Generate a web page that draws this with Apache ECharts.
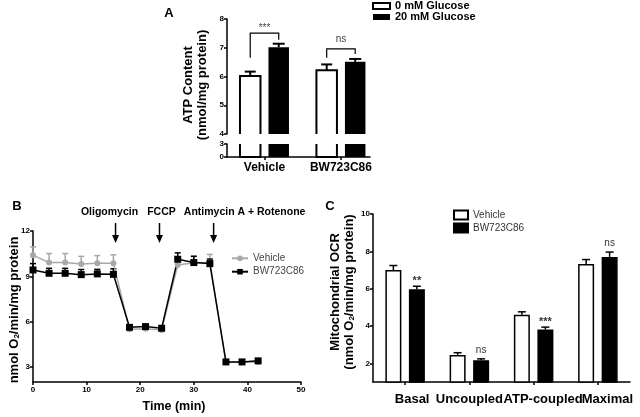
<!DOCTYPE html>
<html>
<head>
<meta charset="utf-8">
<script src="https://cdn.jsdelivr.net/npm/echarts@6/dist/echarts.min.js"></script>
<style>
  html, body { margin: 0; padding: 0; background: #fff; }
  #main { width: 640px; height: 417px; }
</style>
</head>
<body>
<div id="main"></div>
<script>
// ---- Panel A: ATP content ----
const groupsA = ['Vehicle', 'BW723C86'];
const glucose0 = [6.02, 6.22];
const glucose0Err = [0.15, 0.2];
const glucose20 = [7.02, 6.51];
const glucose20Err = [0.12, 0.1];
const sigA = ['***', 'ns'];
const bracketTopA = [7.51, 6.96];
const bracketLeftA = [6.65, 6.65];
const bracketRightA = [7.28, 6.78];

// ---- Panel B: OCR time course ----
const timeB = [0, 3, 6, 9, 12, 15, 18, 21, 24, 27, 30, 33, 36, 39, 42];
const vehicleB = [10.4, 9.91, 9.91, 9.82, 9.87, 9.87, 5.5, 5.52, 5.45, 9.75, 9.9, 9.9, 3.3, 3.3, 3.32];
const vehicleBErr = [0.55, 0.6, 0.6, 0.5, 0.5, 0.55, 0.1, 0.1, 0.1, 0.45, 0.4, 0.55, 0.1, 0.1, 0.1];
const bwB = [9.42, 9.2, 9.2, 9.11, 9.16, 9.13, 5.62, 5.67, 5.56, 10.13, 9.91, 9.84, 3.33, 3.33, 3.4];
const bwBErr = [0.42, 0.33, 0.33, 0.34, 0.3, 0.37, 0.08, 0.08, 0.08, 0.42, 0.42, 0.3, 0.05, 0.05, 0.05];
const injections = ['Oligomycin', 'FCCP', 'Antimycin A + Rotenone'];
const injectionTimes = [15.4, 23.6, 33.7];

// ---- Panel C: mitochondrial OCR ----
const categoriesC = ['Basal', 'Uncoupled', 'ATP-coupled', 'Maximal'];
const vehicleC = [7.0, 2.45, 4.6, 7.32];
const vehicleCErr = [0.24, 0.12, 0.16, 0.24];
const bwC = [5.97, 2.17, 3.81, 7.7];
const bwCErr = [0.16, 0.07, 0.13, 0.26];
const sigC = ['**', 'ns', '***', 'ns'];

const FONT = '"Liberation Sans", Arial, sans-serif';
const chart = echarts.init(document.getElementById('main'));

const A_OFF = 14.25, A_BAR = 20.5;
const C_OFF = 11.75;

function barA(offset, filled, lo, hi) {
  return function (params, api) {
    const v = api.value(1);
    const p = api.coord([api.value(0), Math.min(v, hi)]);
    const b = api.coord([api.value(0), lo]);
    const x0 = p[0] + offset - A_BAR / 2, x1 = x0 + A_BAR;
    if (filled) {
      return {type: 'rect', shape: {x: x0, y: p[1], width: A_BAR, height: b[1] - p[1]}, style: {fill: '#000'}};
    }
    // white bar: leave the side at the axis break open
    const pts = v > hi
      ? [[x0, p[1]], [x0, b[1]], [x1, b[1]], [x1, p[1]]]
      : [[x0, b[1]], [x0, p[1]], [x1, p[1]], [x1, b[1]]];
    return {type: 'polyline', shape: {points: pts}, style: {stroke: '#000', lineWidth: 2, fill: null}};
  };
}

function errBar(offset, cap, color, width) {
  return function (params, api) {
    const x = api.value(0), v = api.value(1), e = api.value(2);
    const p = api.coord([x, v]), q = api.coord([x, v + e]);
    const cx = p[0] + offset;
    return {type: 'group', children: [
      {type: 'line', shape: {x1: cx, y1: p[1], x2: cx, y2: q[1]}, style: {stroke: color, lineWidth: width}},
      {type: 'line', shape: {x1: cx - cap / 2, y1: q[1], x2: cx + cap / 2, y2: q[1]}, style: {stroke: color, lineWidth: width}}
    ]};
  };
}

function bracketA(params, api) {
  const i = api.value(0);
  const t = api.coord([i, api.value(1)]);
  const l = api.coord([i, api.value(2)]);
  const r = api.coord([i, api.value(3)]);
  const xl = t[0] - A_OFF, xr = t[0] + A_OFF;
  const s = sigA[params.dataIndex];
  return {type: 'group', children: [
    {type: 'polyline', shape: {points: [[xl, l[1]], [xl, t[1]], [xr, t[1]], [xr, r[1]]]},
     style: {stroke: '#000', lineWidth: 1.2, fill: null}},
    {type: 'text', style: {text: s, x: t[0], y: t[1] - (s === 'ns' ? 9.5 : 5), align: 'center', verticalAlign: 'middle',
      fontSize: 10, fontFamily: FONT, fill: '#444'}}
  ]};
}

function sigTextC(params, api) {
  const i = api.value(0);
  const p = api.coord([i, api.value(1)]);
  const s = sigC[params.dataIndex];
  const ns = s === 'ns';
  return {type: 'text', style: {text: s, x: p[0] + C_OFF, y: p[1] - (ns ? 9 : 5.5), align: 'center', verticalAlign: 'middle',
    fontSize: ns ? 10 : 11, fontWeight: ns ? 'normal' : 'bold', fontFamily: FONT, fill: '#333'}};
}

const blackLine = {color: '#000', width: 1.5};
const tickLabel = {fontSize: 8, fontWeight: 'bold', color: '#000', fontFamily: FONT};

const rowsA0 = groupsA.map((g, i) => [i, glucose0[i], glucose0Err[i]]);
const rowsA20 = groupsA.map((g, i) => [i, glucose20[i], glucose20Err[i]]);
const rowsBracket = groupsA.map((g, i) => [i, bracketTopA[i], bracketLeftA[i], bracketRightA[i]]);

const richC = {};
const shiftC = [14, 0, 19, 19];
shiftC.forEach((p, i) => {
  richC['p' + i] = {fontSize: 13, fontWeight: 'bold', color: '#000', fontFamily: FONT, padding: [0, 0, 0, p]};
});

const option = {
  animation: false,
  textStyle: {fontFamily: FONT},
  grid: [
    {left: 227, top: 19, width: 143, height: 115},
    {left: 227, top: 144, width: 143, height: 13},
    {left: 33, top: 231, width: 268, height: 151},
    {left: 373, top: 214, width: 257, height: 168}
  ],
  xAxis: [
    {gridIndex: 0, type: 'value', min: -0.49, max: 1.38, show: false},
    {gridIndex: 1, type: 'value', min: -0.49, max: 1.38,
     axisLine: {show: true, onZero: false, lineStyle: blackLine},
     axisTick: {show: true, length: 3, lineStyle: blackLine, customValues: [0, 1]},
     axisLabel: {customValues: [0, 1], formatter: v => groupsA[v], fontSize: 12, fontWeight: 'bold', color: '#000', margin: 5},
     splitLine: {show: false}},
    {gridIndex: 2, type: 'value', min: 0, max: 50, interval: 10,
     axisLine: {show: true, onZero: false, lineStyle: blackLine},
     axisTick: {show: true, length: 3, lineStyle: blackLine},
     axisLabel: Object.assign({margin: 4}, tickLabel),
     splitLine: {show: false}},
    {gridIndex: 3, type: 'category', data: categoriesC,
     axisLine: {show: true, onZero: false, lineStyle: blackLine},
     axisTick: {show: true, length: 3, alignWithLabel: true, lineStyle: blackLine},
     axisLabel: {interval: 0, margin: 11, formatter: (v, i) => '{p' + i + '|' + v + '}', rich: richC}}
  ],
  yAxis: [
    {gridIndex: 0, type: 'value', min: 4, max: 8, interval: 1,
     axisLine: {show: true, onZero: false, lineStyle: blackLine},
     axisTick: {show: true, length: 3, lineStyle: blackLine},
     axisLabel: Object.assign({margin: 3}, tickLabel), splitLine: {show: false}},
    {gridIndex: 1, type: 'value', min: 0, max: 3, interval: 3,
     axisLine: {show: true, onZero: false, lineStyle: blackLine},
     axisTick: {show: true, length: 3, lineStyle: blackLine},
     axisLabel: Object.assign({margin: 3}, tickLabel), splitLine: {show: false}},
    {gridIndex: 2, type: 'value', min: 2, max: 12,
     axisLine: {show: true, onZero: false, lineStyle: blackLine},
     axisTick: {show: true, length: 3, lineStyle: blackLine, customValues: [3, 6, 9, 12]},
     axisLabel: Object.assign({margin: 3, customValues: [3, 6, 9, 12]}, tickLabel), splitLine: {show: false}},
    {gridIndex: 3, type: 'value', min: 1, max: 10,
     axisLine: {show: true, onZero: false, lineStyle: blackLine},
     axisTick: {show: true, length: 3, lineStyle: blackLine, customValues: [2, 4, 6, 8, 10]},
     axisLabel: Object.assign({margin: 3, customValues: [2, 4, 6, 8, 10]}, tickLabel), splitLine: {show: false}}
  ],
  legend: [
    {left: 372, top: 0.5, orient: 'vertical', padding: 0, itemGap: 0, itemWidth: 17, itemHeight: 6,
     textStyle: {fontSize: 11, fontWeight: 'bold', color: '#000', lineHeight: 11},
     data: [
       {name: '0 mM Glucose', icon: 'rect', itemStyle: {color: '#fff', borderColor: '#000', borderWidth: 2}},
       {name: '20 mM Glucose', icon: 'rect', itemStyle: {color: '#000', borderWidth: 0}}
     ]},
    {left: 231, top: 252.3, orient: 'vertical', padding: 0, itemGap: 1.4, itemWidth: 16, itemHeight: 7,
     textStyle: {fontSize: 10, color: '#444', lineHeight: 12},
     data: ['Vehicle', 'BW723C86']},
    {left: 453, top: 209, orient: 'vertical', padding: 0, itemGap: 1, itemWidth: 14, itemHeight: 9,
     textStyle: {fontSize: 10, color: '#333', lineHeight: 12},
     formatter: n => n.replace(' (C)', ''),
     data: [{name: 'Vehicle (C)', icon: 'rect'}, {name: 'BW723C86 (C)', icon: 'rect'}]}
  ],
  series: [
    // Panel A, upper segment (4-8)
    {name: '0 mM Glucose', type: 'custom', xAxisIndex: 0, yAxisIndex: 0, renderItem: barA(-A_OFF, false, 4, 8), data: rowsA0},
    {name: '20 mM Glucose', type: 'custom', xAxisIndex: 0, yAxisIndex: 0, renderItem: barA(A_OFF, true, 4, 8), data: rowsA20},
    {name: 'errA0', type: 'custom', xAxisIndex: 0, yAxisIndex: 0, renderItem: errBar(-A_OFF, 11, '#000', 2), data: rowsA0},
    {name: 'errA20', type: 'custom', xAxisIndex: 0, yAxisIndex: 0, renderItem: errBar(A_OFF, 12, '#000', 2), data: rowsA20},
    {name: 'bracketA', type: 'custom', xAxisIndex: 0, yAxisIndex: 0, renderItem: bracketA, data: rowsBracket},
    // Panel A, lower segment (0-3)
    {name: '0 mM Glucose', type: 'custom', xAxisIndex: 1, yAxisIndex: 1, renderItem: barA(-A_OFF, false, 0, 3), data: rowsA0},
    {name: '20 mM Glucose', type: 'custom', xAxisIndex: 1, yAxisIndex: 1, renderItem: barA(A_OFF, true, 0, 3), data: rowsA20},
    // Panel B
    {name: 'Vehicle', type: 'line', xAxisIndex: 2, yAxisIndex: 2,
     data: timeB.map((t, i) => [t, vehicleB[i]]),
     symbol: 'circle', symbolSize: 6, itemStyle: {color: '#a8a8a8'}, lineStyle: {color: '#a8a8a8', width: 1.5}},
    {name: 'errVehicleB', type: 'custom', xAxisIndex: 2, yAxisIndex: 2, renderItem: errBar(0, 6, '#a8a8a8', 1.5),
     data: timeB.map((t, i) => [t, vehicleB[i], vehicleBErr[i]])},
    {name: 'BW723C86', type: 'line', xAxisIndex: 2, yAxisIndex: 2,
     data: timeB.map((t, i) => [t, bwB[i]]),
     symbol: 'rect', symbolSize: 7, itemStyle: {color: '#000'}, lineStyle: {color: '#000', width: 1.5}},
    {name: 'errBwB', type: 'custom', xAxisIndex: 2, yAxisIndex: 2, renderItem: errBar(0, 6, '#000', 1.5),
     data: timeB.map((t, i) => [t, bwB[i], bwBErr[i]])},
    // Panel C
    {name: 'Vehicle (C)', type: 'bar', xAxisIndex: 3, yAxisIndex: 3, data: vehicleC, barWidth: 16, barGap: '47%',
     itemStyle: {color: '#fff', borderColor: '#000', borderWidth: 1.5}},
    {name: 'BW723C86 (C)', type: 'bar', xAxisIndex: 3, yAxisIndex: 3, data: bwC, barWidth: 16, barGap: '47%',
     itemStyle: {color: '#000', borderColor: '#000', borderWidth: 1.5}},
    {name: 'errVehicleC', type: 'custom', xAxisIndex: 3, yAxisIndex: 3, renderItem: errBar(-C_OFF, 8, '#000', 1.5),
     data: categoriesC.map((c, i) => [i, vehicleC[i], vehicleCErr[i]])},
    {name: 'errBwC', type: 'custom', xAxisIndex: 3, yAxisIndex: 3, renderItem: errBar(C_OFF, 8, '#000', 1.5),
     data: categoriesC.map((c, i) => [i, bwC[i], bwCErr[i]])},
    {name: 'sigC', type: 'custom', xAxisIndex: 3, yAxisIndex: 3, renderItem: sigTextC,
     data: categoriesC.map((c, i) => [i, bwC[i] + bwCErr[i]])}
  ]
};

chart.setOption(option);

// titles, axis names and injection arrows
const bold = (size) => ({fontSize: size, fontWeight: 'bold', fontFamily: FONT, fill: '#000'});
const sub = {
  b: {fontSize: 13, fontWeight: 'bold', fontFamily: FONT, fill: '#000'},
  s: {fontSize: 8, fontWeight: 'bold', fontFamily: FONT, fill: '#000', verticalAlign: 'bottom', lineHeight: 8}
};
const graphic = [
  {type: 'text', x: 169, y: 13, style: Object.assign({text: 'A', align: 'center', verticalAlign: 'middle'}, bold(13))},
  {type: 'text', x: 17, y: 206, style: Object.assign({text: 'B', align: 'center', verticalAlign: 'middle'}, bold(13))},
  {type: 'text', x: 330, y: 206, style: Object.assign({text: 'C', align: 'center', verticalAlign: 'middle'}, bold(13))},
  {type: 'text', x: 195, y: 85, rotation: Math.PI / 2,
   style: Object.assign({text: 'ATP Content\n(nmol/mg protein)', align: 'center', verticalAlign: 'middle', lineHeight: 14}, bold(13))},
  {type: 'text', x: 14, y: 310, rotation: Math.PI / 2,
   style: {text: '{b|nmol O}{s|2}{b|/min/mg protein}', rich: sub, align: 'center', verticalAlign: 'middle', lineHeight: 14}},
  {type: 'text', x: 342, y: 292, rotation: Math.PI / 2,
   style: {text: '{b|Mitochondrial OCR}\n{b|(nmol O}{s|2}{b|/min/mg protein)}', rich: sub, align: 'center', verticalAlign: 'middle', lineHeight: 14}},
  {type: 'text', x: 174, y: 407, style: Object.assign({text: 'Time (min)', align: 'center', verticalAlign: 'middle'}, bold(12.5))}
];
const labelShift = [-6, 2, 31];
injectionTimes.forEach((t, i) => {
  const px = chart.convertToPixel({xAxisIndex: 2, yAxisIndex: 2}, [t, 12]);
  const ax = px[0], top = px[1];
  graphic.push({type: 'line', shape: {x1: ax, y1: top - 8, x2: ax, y2: top + 5}, style: {stroke: '#000', lineWidth: 1.5}});
  graphic.push({type: 'polygon', shape: {points: [[ax - 3.5, top + 4], [ax + 3.5, top + 4], [ax, top + 12]]}, style: {fill: '#000'}});
  graphic.push({type: 'text', x: ax + labelShift[i], y: 212,
    style: Object.assign({text: injections[i], align: 'center', verticalAlign: 'middle'}, bold(10.5))});
});
chart.setOption({graphic: graphic});
</script>
</body>
</html>
